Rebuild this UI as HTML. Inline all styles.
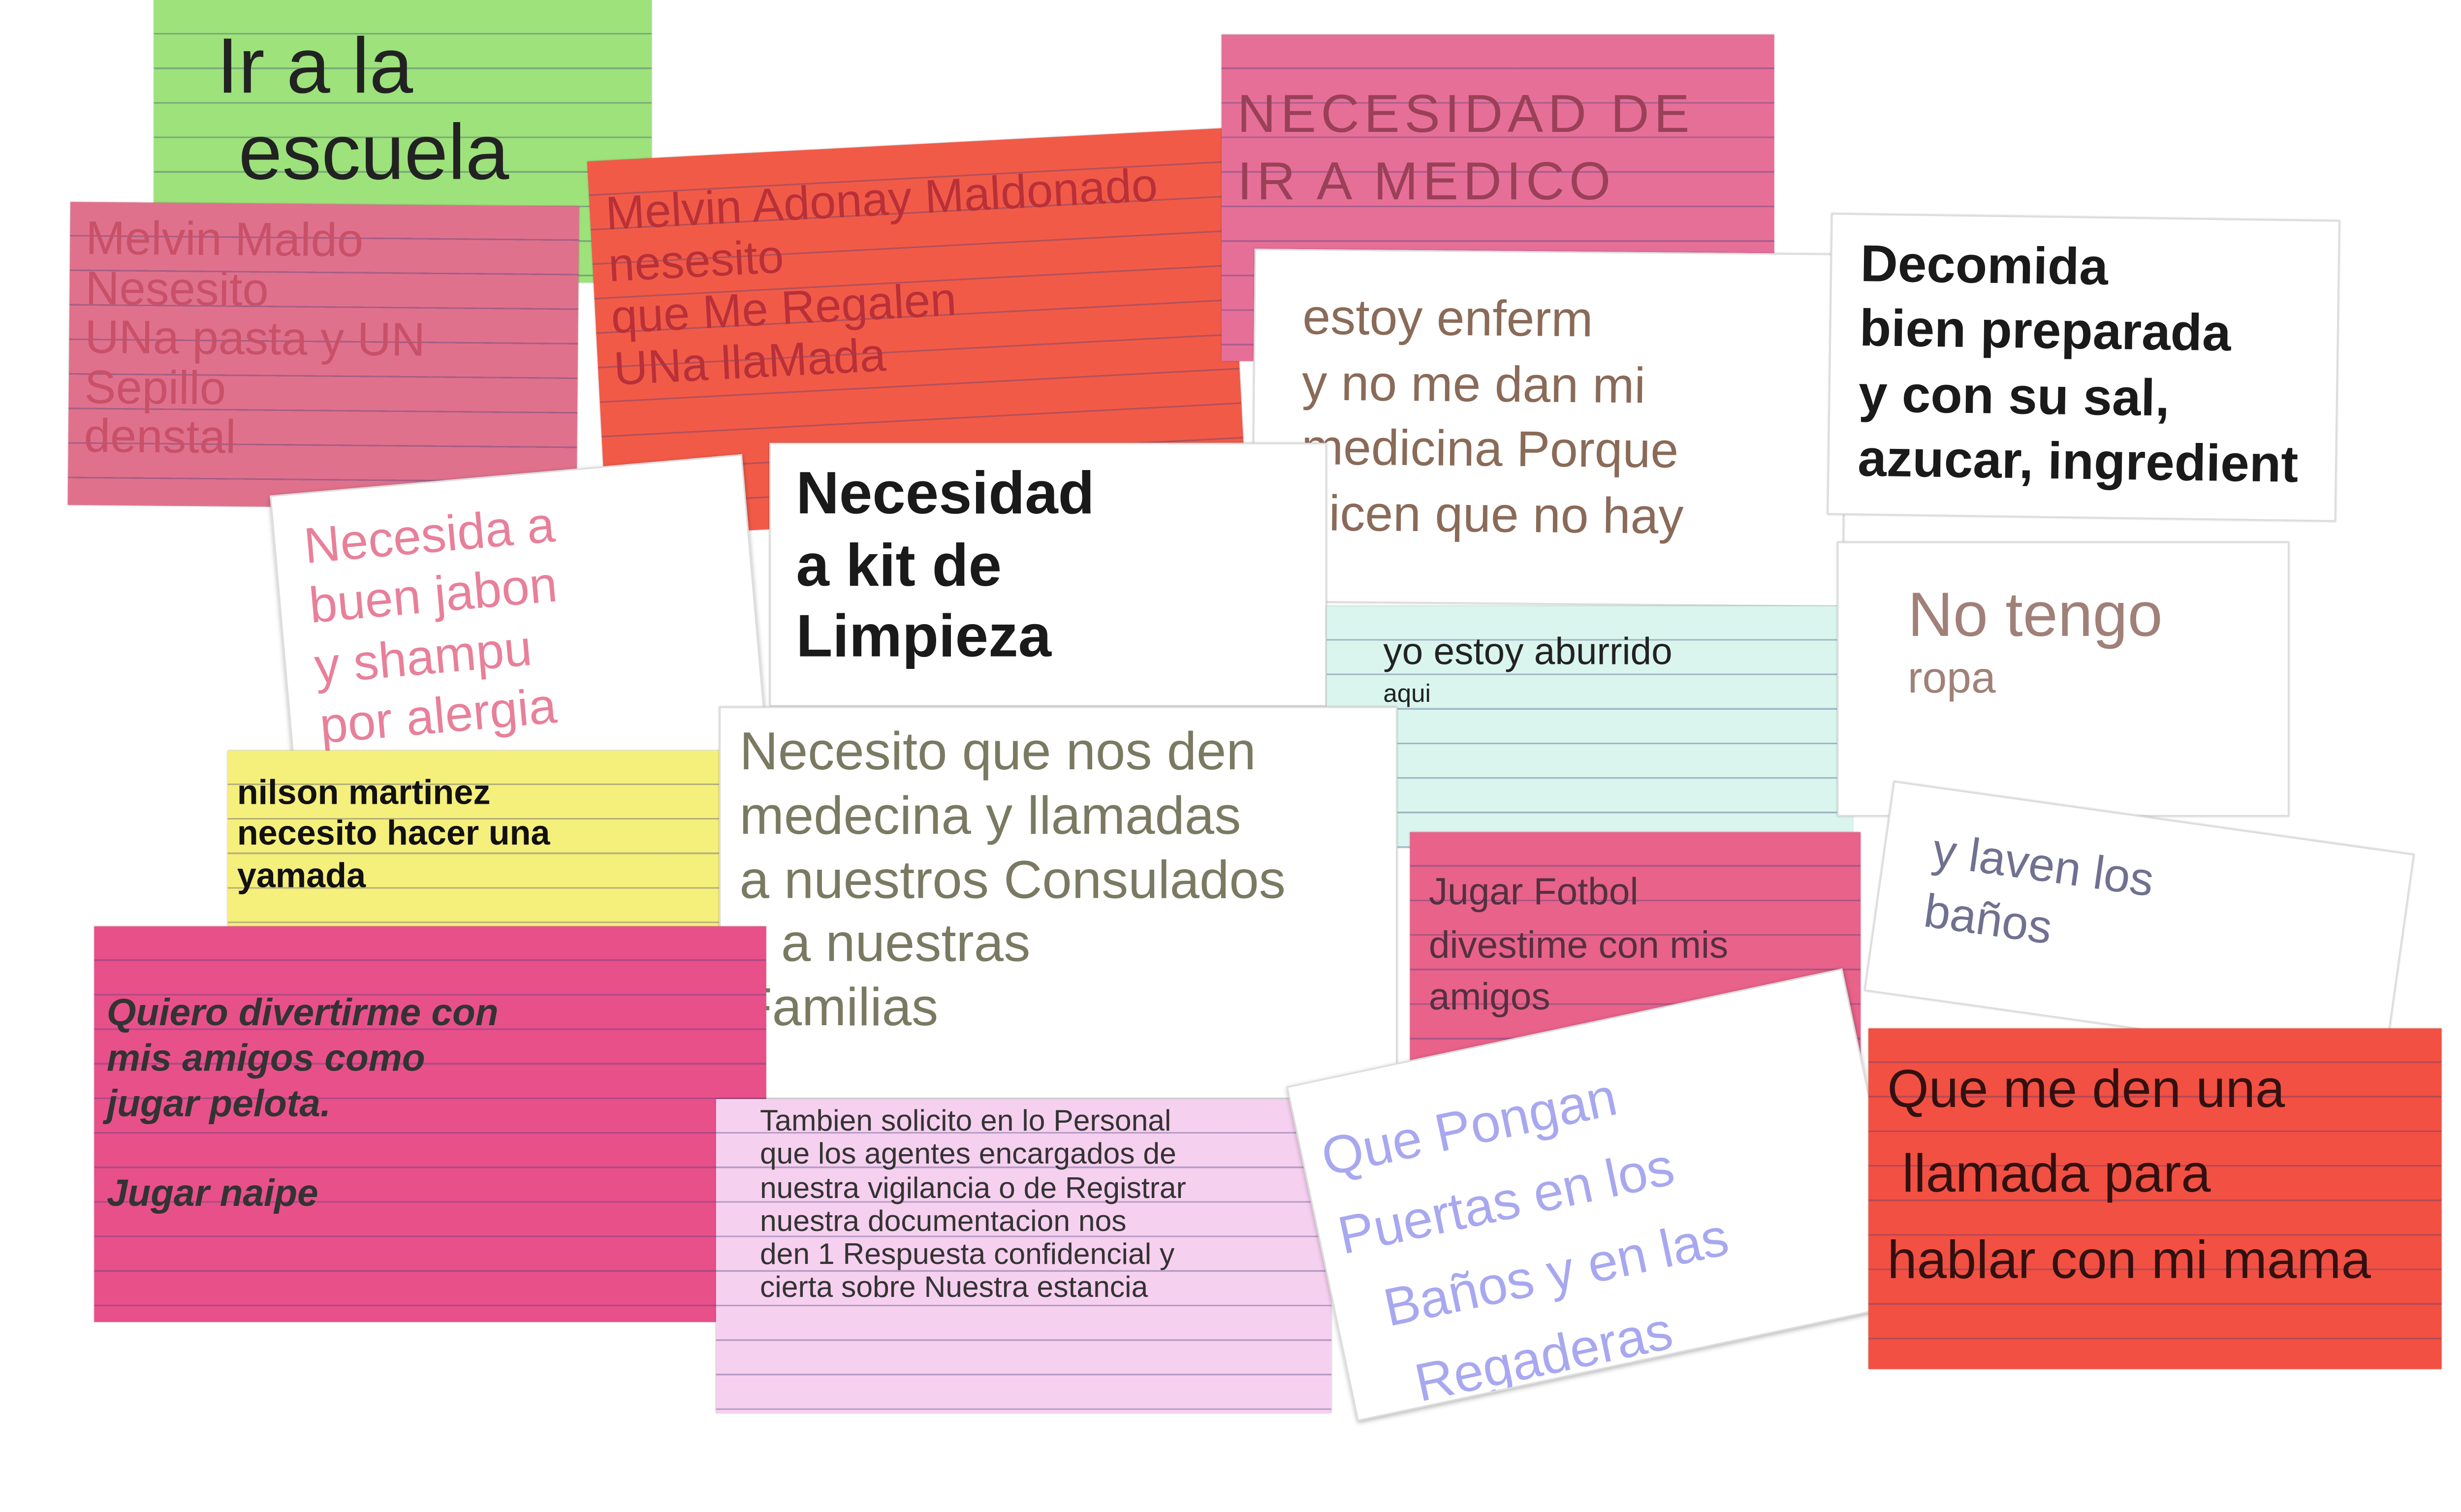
<!DOCTYPE html>
<html><head><meta charset="utf-8">
<style>
html,body{margin:0;padding:0;background:#fff;overflow:hidden}
#w{width:5120px;height:3072px;position:relative;overflow:hidden;background:#fff}
#s{position:absolute;left:0;top:0;width:1568px;height:941px;transform:scale(3.19);transform-origin:0 0}
.c{position:absolute;box-sizing:border-box;font-family:"Liberation Sans",sans-serif;padding:8px 10px;line-height:1.25;overflow:hidden;box-shadow:0 0 1px rgba(0,0,0,.3)}
.r{background-image:repeating-linear-gradient(to bottom,transparent 0,transparent 21px,rgba(60,60,120,.35) 21px,rgba(60,60,120,.35) 22px)}
.wh{background:#fff;border:1px solid #ddd}
</style></head><body>
<div id="w"><div id="s">

<div class="c r" style="left:98px;top:0;width:317px;height:180px;background-color:#9de27b;font-size:50px;color:#222;padding:15px 40px;line-height:1.1">Ir a la<br>&nbsp;escuela</div>

<div class="c r" style="left:44px;top:130px;width:324px;height:193px;background-color:#e0718c;font-size:30px;color:#c85068;transform:rotate(.5deg);line-height:1.05">Melvin Maldo<br>Nesesito<br>UNa pasta y UN<br>Sepillo<br>denstal</div>

<div class="c r" style="left:380px;top:92px;width:408px;height:240px;background-color:#f25a48;font-size:30px;color:#b83038;transform:rotate(-3deg);line-height:1.1;padding-top:18px">Melvin Adonay Maldonado<br>nesesito<br>que Me Regalen<br>UNa llaMada</div>

<div class="c r" style="left:778px;top:22px;width:352px;height:208px;background-color:#e66f98;font-size:34px;color:#9a4058;letter-spacing:3px;padding-top:30px;line-height:1.25">NECESIDAD DE<br>IR A MEDICO</div>

<div class="c wh" style="left:798px;top:160px;width:377px;height:225px;font-size:32px;color:#8a6a58;padding:22px 30px;line-height:1.3;transform:rotate(.5deg)">estoy enferm<br>y no me dan mi<br>medicina Porque<br>dicen que no hay</div>

<div class="c wh" style="left:1165px;top:138px;width:324px;height:192px;font-size:33px;color:#1a1a1a;font-weight:bold;padding:10px 18px;line-height:1.25;transform:rotate(.8deg)">Decomida<br>bien preparada<br>y con su sal,<br>azucar, ingredient</div>

<div class="c wh" style="left:180px;top:302px;width:302px;height:202px;font-size:32px;color:#e8809a;padding:14px 18px;line-height:1.2;transform:rotate(-5deg);box-shadow:0 1px 3px rgba(0,0,0,.3)">Necesida a<br>buen jabon<br>y shampu<br>por alergia</div>

<div class="c wh" style="left:490px;top:282px;width:355px;height:168px;font-size:38px;color:#1a1a1a;font-weight:bold;padding:10px 16px;line-height:1.2">Necesidad<br>a kit de<br>Limpieza</div>

<div class="c r" style="left:845px;top:386px;width:335px;height:154px;background-color:#d9f5ee;font-size:24px;color:#222;padding:18px 36px;line-height:1">yo estoy aburrido<br><span style="font-size:16px">aqui</span></div>

<div class="c wh" style="left:1170px;top:345px;width:288px;height:175px;font-size:40px;color:#a08078;padding:28px 44px;line-height:.9">No tengo<br><span style="font-size:28px">ropa</span></div>

<div class="c r" style="left:145px;top:478px;width:317px;height:112px;background-color:#f5ef7c;font-size:22px;color:#111;font-weight:bold;padding:14px 6px;line-height:1.2">nilson martinez<br>necesito hacer una<br>yamada</div>

<div class="c wh" style="left:458px;top:450px;width:432px;height:250px;font-size:34px;color:#7a7a62;padding:8px 12px;line-height:1.2">Necesito que nos den<br>medecina y llamadas<br>a nuestros Consulados<br>y a nuestras<br>Familias</div>

<div class="c r" style="left:898px;top:530px;width:287px;height:160px;background-color:#e8628a;font-size:24px;color:#553040;padding:22px 12px;line-height:1.4">Jugar Fotbol<br>divestime con mis<br>amigos</div>

<div class="c wh" style="left:1195px;top:520px;width:335px;height:135px;font-size:30px;color:#707090;padding:20px 30px;line-height:1.3;transform:rotate(8deg)">y laven los<br>baños</div>

<div class="c r" style="left:60px;top:590px;width:428px;height:252px;background-color:#e8508a;font-size:24px;color:#333;font-style:italic;font-weight:bold;padding:42px 8px;line-height:1.2">Quiero divertirme con<br>mis amigos como<br>jugar pelota.<br><br>Jugar naipe</div>

<div class="c r" style="left:456px;top:700px;width:392px;height:200px;background-color:#f6d0ef;font-size:19px;color:#333;padding:4px 28px;line-height:1.12">Tambien solicito en lo Personal<br>que los agentes encargados de<br>nuestra vigilancia o de Registrar<br>nuestra documentacion nos<br>den 1 Respuesta confidencial y<br>cierta sobre Nuestra estancia</div>

<div class="c wh" style="left:838px;top:652px;width:362px;height:218px;font-size:34px;color:#a8a8f0;padding:24px 12px;line-height:1.5;transform:rotate(-12deg);box-shadow:0 1px 3px rgba(0,0,0,.3)">Que Pongan<br>Puertas en los<br>&nbsp;&nbsp;Baños y en las<br>&nbsp;&nbsp;&nbsp;Regaderas</div>

<div class="c r" style="left:1190px;top:655px;width:365px;height:217px;background-color:#f25042;font-size:34px;color:#331010;padding:12px 12px;line-height:1.6">Que me den una<br>&nbsp;llamada para<br>hablar con mi mama</div>

</div></div>
</body></html>
